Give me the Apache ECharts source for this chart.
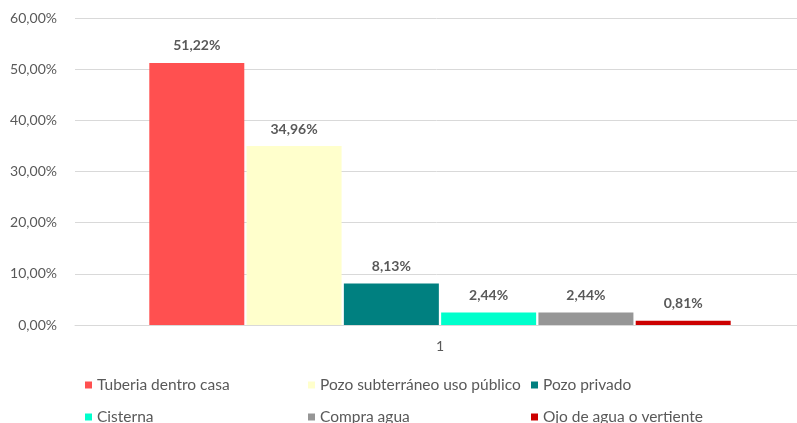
<!DOCTYPE html>
<html>
<head>
<meta charset="utf-8">
<script src="https://cdn.jsdelivr.net/npm/echarts@6/dist/echarts.min.js"></script>
<style>
  html, body { margin: 0; padding: 0; background: #fff; }
  #chart { width: 797px; height: 423px; }
</style>
</head>
<body>
<div id="chart"></div>
<script>
// data
const categories = ['1'];
const seriesNames = [
  'Tuberia dentro casa',
  'Pozo subterráneo uso público',
  'Pozo privado',
  'Cisterna',
  'Compra agua',
  'Ojo de agua o vertiente'
];
const seriesValues = [51.22, 34.96, 8.13, 2.44, 2.44, 0.81];
const seriesColors = ['#FF5050', '#FFFFCC', '#008080', '#00FFCC', '#969696', '#CC0000'];
const yTicks = [0, 10, 20, 30, 40, 50, 60];

const fmt = v => v.toFixed(2).replace('.', ',') + '%';
const font = 'Lato, "Open Sans", sans-serif';
const grey = '#595959';

const chart = echarts.init(document.getElementById('chart'));

const series = seriesNames.map((name, i) => ({
  name: name,
  type: 'bar',
  data: [seriesValues[i]],
  barWidth: 95,
  barGap: '2.4%',
  itemStyle: { color: seriesColors[i] },
  label: {
    show: true,
    position: 'top',
    distance: 10,
    formatter: p => fmt(p.value),
    color: grey,
    fontFamily: font,
    fontSize: 14,
    fontWeight: 'bold'
  }
}));

// legend: 3 columns x 2 rows, one legend per entry
const legends = seriesNames.map((name, i) => ({
  left: 80 + (i % 3) * 223,
  top: 372 + Math.floor(i / 3) * 32,
  itemWidth: 7,
  itemHeight: 7,
  itemGap: 0,
  icon: 'rect',
  data: [name],
  textStyle: { color: grey, fontFamily: font, fontSize: 15.5 }
}));

chart.setOption({
  animation: false,
  legend: legends,
  grid: { left: 75, width: 730, top: 18, bottom: 98, containLabel: false, outerBoundsMode: 'none' },
  xAxis: {
    type: 'category',
    data: categories,
    axisLine: { lineStyle: { color: '#D9D9D9', width: 1 } },
    axisTick: { show: false },
    axisLabel: { color: grey, fontFamily: font, fontSize: 14, margin: 14 }
  },
  yAxis: {
    type: 'value',
    min: yTicks[0],
    max: yTicks[yTicks.length - 1],
    interval: 10,
    axisLine: { show: false },
    axisTick: { show: false },
    splitLine: { lineStyle: { color: '#D9D9D9', width: 1 } },
    axisLabel: { formatter: fmt, color: grey, fontFamily: font, fontSize: 14, margin: 18 }
  },
  series: series
});
</script>
</body>
</html>
